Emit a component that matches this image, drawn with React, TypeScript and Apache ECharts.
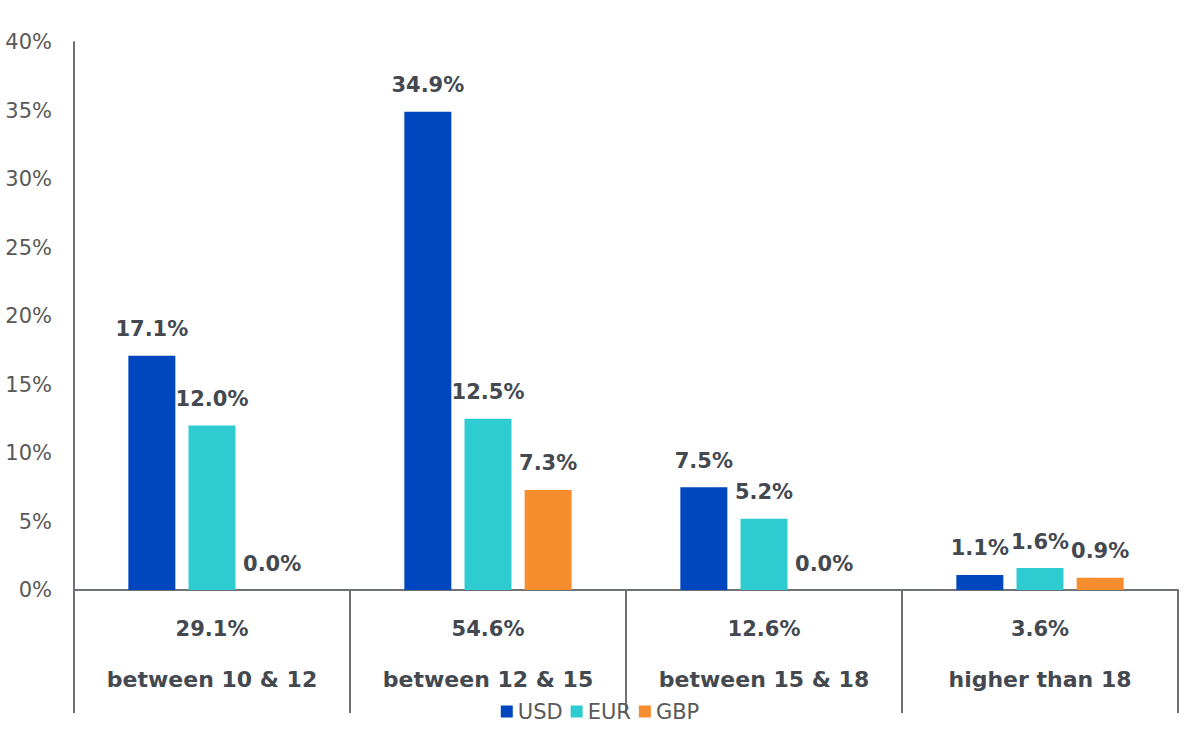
import React, { useEffect, useRef } from "react";
import * as echarts from "echarts";

const categories = ["between 10 & 12", "between 12 & 15", "between 15 & 18", "higher than 18"];
const totals = [29.1, 54.6, 12.6, 3.6];
const usd = [17.1, 34.9, 7.5, 1.1];
const eur = [12.0, 12.5, 5.2, 1.6];
const gbp = [0.0, 7.3, 0.0, 0.9];
const seriesNames = ["USD", "EUR", "GBP"];
const colors = ["#0046BE", "#2ECBD1", "#F68E2F"];

const FONT = "'DejaVu Sans', 'Noto Sans', sans-serif";
const AXIS_COLOR = "#6E7175";
const LABEL_DARK = "#44494F";

export default function App() {
  const ref = useRef<HTMLDivElement>(null);
  useEffect(() => {
    document.body.style.margin = "0";
    if (!ref.current) return;
    const chart = echarts.init(ref.current, undefined, { renderer: "svg" });
    const seriesData = [usd, eur, gbp];
    chart.setOption({
      animation: false,
      textStyle: { fontFamily: FONT },
      grid: { left: 74, right: 22, top: 42, bottom: 148, containLabel: false },
      legend: {
        data: seriesNames,
        top: 696,
        left: "center",
        itemWidth: 12,
        itemHeight: 12,
        itemGap: 8,
        icon: "rect",
        textStyle: { color: "#595959", fontSize: 21, fontFamily: FONT, padding: [0, 0, 0, 0] },
      },
      xAxis: {
        type: "category",
        data: categories,
        axisLine: { lineStyle: { color: AXIS_COLOR, width: 2 } },
        axisTick: { show: true, length: 123, lineStyle: { color: AXIS_COLOR, width: 2 } },
        axisLabel: {
          interval: 0,
          margin: 14,
          formatter: (v: string, i: number) => `{t|${totals[i].toFixed(1)}%}\n{c|${v}}`,
          rich: {
            t: { fontSize: 21, fontWeight: "bold", color: LABEL_DARK, fontFamily: FONT, lineHeight: 50 },
            c: { fontSize: 22, fontWeight: "bold", color: LABEL_DARK, fontFamily: FONT, lineHeight: 50 },
          },
        },
      },
      yAxis: {
        type: "value",
        min: 0,
        max: 40,
        interval: 5,
        axisLine: { show: true, lineStyle: { color: AXIS_COLOR, width: 2 } },
        axisTick: { show: false },
        splitLine: { show: false },
        axisLabel: {
          formatter: "{value}%",
          color: "#595959",
          fontSize: 21,
          fontFamily: FONT,
          margin: 22,
        },
      },
      series: seriesNames.map((name, si) => ({
        name,
        type: "bar",
        data: seriesData[si],
        barWidth: 47,
        barGap: "28%",
        itemStyle: { color: colors[si] },
        label: {
          show: true,
          position: "top",
          distance: 16,
          formatter: (p: any) => `${Number(p.value).toFixed(1)}%`,
          color: LABEL_DARK,
          fontSize: 21,
          fontWeight: "bold",
          fontFamily: FONT,
        },
      })),
    });
    return () => chart.dispose();
  }, []);
  return <div ref={ref} style={{ width: 1200, height: 738 }} />;
}
